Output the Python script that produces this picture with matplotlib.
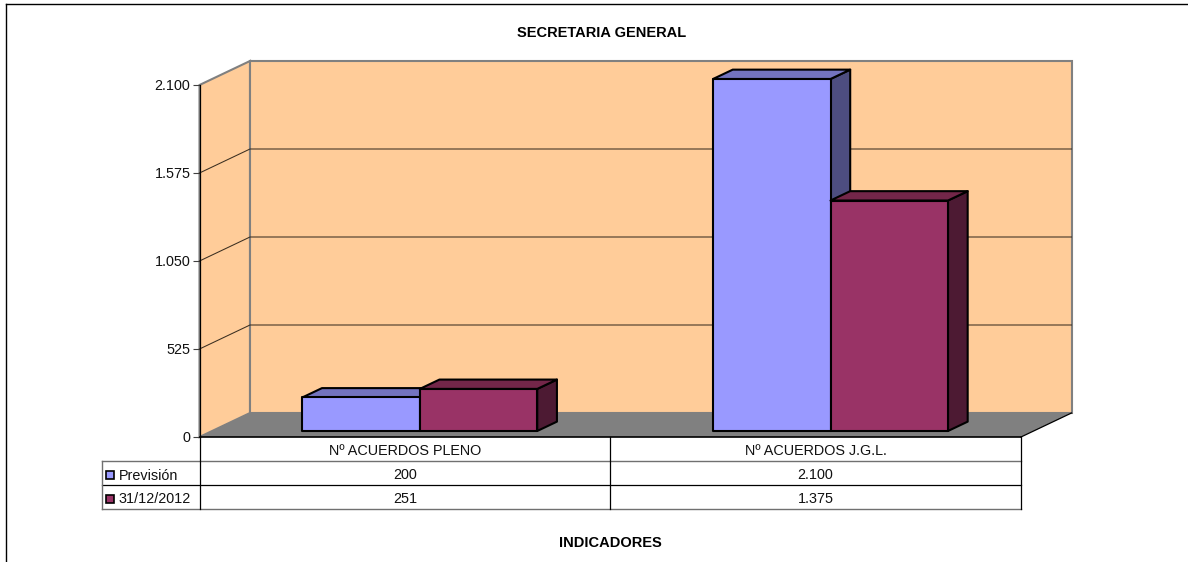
#!/usr/bin/env python3
import matplotlib
matplotlib.use("Agg")
import matplotlib.pyplot as plt
from matplotlib.lines import Line2D
from matplotlib.patches import Polygon, Rectangle

categories = ["Nº ACUERDOS PLENO", "Nº ACUERDOS J.G.L."]
series_names = ["Previsión", "31/12/2012"]
prevision = [200, 2100]
fin_2012 = [251, 1375]
y_ticks = [0, 525, 1050, 1575, 2100]

# face, top, side
colors_prev = ["#9999FF", "#7373BF", "#4D4D80"]
colors_2012 = ["#993366", "#732649", "#4D1A33"]

W, H = 1188, 562
plt.rcParams["font.family"] = ["Liberation Sans", "DejaVu Sans"]


def fx(x):
    return x / W


def fy(y):
    return 1 - y / H


def fig_line(x0, y0, x1, y1, color="black", lw=0.8):
    fig.add_artist(Line2D([fx(x0), fx(x1)], [fy(y0), fy(y1)], color=color, lw=lw))


def fmt(v):
    return f"{v:,}".replace(",", ".")


fig = plt.figure(figsize=(W / 100, H / 100), dpi=100)
left, right, top, bottom = 199.5, 1021, 85, 437
ax = fig.add_axes([fx(left), fy(bottom), fx(right - left), (bottom - top) / H])
ax.set_xlim(0, 2)
ax.set_ylim(0, 2100)
ax.patch.set_visible(False)

# depth of the 3d box in data units
depth_x = 50.5 / ((right - left) / 2)
depth_y = 24 / (bottom - top) * 2100
grey = "#808080"

ax.add_patch(Polygon([(0, 0), (depth_x, depth_y), (depth_x, 2100 + depth_y), (0, 2100)],
                     fc="#FFCC99", ec=grey, lw=1.5, clip_on=False, zorder=1))
ax.add_patch(Polygon([(depth_x, depth_y), (2 + depth_x, depth_y), (2 + depth_x, 2100 + depth_y), (depth_x, 2100 + depth_y)],
                     fc="#FFCC99", ec=grey, lw=1.5, clip_on=False, zorder=1))
ax.add_patch(Polygon([(0, 0), (2, 0), (2 + depth_x, depth_y), (depth_x, depth_y)],
                     fc=grey, ec="none", clip_on=False, zorder=2))
ax.plot([2, 2 + depth_x], [0, depth_y], color="black", lw=0.9, clip_on=False, zorder=2)

for t in y_ticks[1:-1]:
    ax.plot([0, depth_x, 2 + depth_x], [t, t + depth_y, t + depth_y],
            color="#3a2e20", lw=0.75, clip_on=False, zorder=2)

bar_w = 0.286
margin = 0.2195
off = 0.25
bar_depth = 0.39


def box(x, v, cols, z):
    x0 = x + off * depth_x
    y0 = off * depth_y
    dx, dy = bar_depth * depth_x, bar_depth * depth_y
    kw = dict(ec="black", lw=1.5, clip_on=False, zorder=z, joinstyle="round")
    ax.add_patch(Polygon([(x0 + bar_w, y0), (x0 + bar_w + dx, y0 + dy), (x0 + bar_w + dx, y0 + v + dy), (x0 + bar_w, y0 + v)], fc=cols[2], **kw))
    ax.add_patch(Polygon([(x0, y0 + v), (x0 + dx, y0 + v + dy), (x0 + bar_w + dx, y0 + v + dy), (x0 + bar_w, y0 + v)], fc=cols[1], **kw))
    ax.add_patch(Rectangle((x0, y0), bar_w, v, fc=cols[0], **kw))


for i in range(len(categories)):
    box(i + margin, prevision[i], colors_prev, 3 + i)
    box(i + margin + bar_w, fin_2012[i], colors_2012, 3.5 + i)

ax.set_xticks([])
ax.set_yticks(y_ticks)
ax.set_yticklabels([fmt(t) for t in y_ticks], fontsize=10.4, color="#111111")
ax.tick_params(axis="y", length=5, width=0.8, color="#404040", pad=1.5)
for s in ["top", "right", "bottom"]:
    ax.spines[s].set_visible(False)
ax.spines["left"].set_linewidth(0.9)
ax.spines["left"].set_zorder(6)

# data table under the chart
mid = (left + right) / 2
fig_line(left, 437, right, 437, "black", 1.2)
fig_line(102, 461, right, 461, "#707070", 1.0)
fig_line(102, 485, right, 485, "black", 0.9)
fig_line(102, 509, right, 509, "#707070", 1.0)
fig_line(102, 461, 102, 509, "#707070", 1.0)
fig_line(left, 437, left, 509, "black", 0.9)
fig_line(mid, 437, mid, 509, "black", 0.9)
fig_line(right, 437, right, 509, "black", 0.9)

cell_x = [(left + mid) / 2, (mid + right) / 2]
for cx, c, a, b in zip(cell_x, categories, prevision, fin_2012):
    fig.text(fx(cx), fy(451), c, ha="center", va="center", fontsize=10.4, color="#111111")
    fig.text(fx(cx), fy(475), fmt(a), ha="center", va="center", fontsize=10.4, color="#111111")
    fig.text(fx(cx), fy(499), fmt(b), ha="center", va="center", fontsize=10.4, color="#111111")

for name, c, yc in zip(series_names, [colors_prev[0], colors_2012[0]], [475, 498.5]):
    fig.add_artist(Rectangle((fx(106), fy(yc + 4)), 8 / W, 8 / H, fc=c, ec="black", lw=1.2,
                             transform=fig.transFigure))
    fig.text(fx(118.5), fy(yc + 0.5), name, ha="left", va="center", fontsize=10.4, color="#111111")

fig.text(fx(602), fy(33), "SECRETARIA GENERAL", ha="center", va="center", fontsize=10.5, fontweight="bold")
fig.text(fx(610.5), fy(543), "INDICADORES", ha="center", va="center", fontsize=10.5, fontweight="bold")

# outer frame of the sheet
fig_line(6, 3.5, W, 3.5, "black", 1.0)
fig_line(6, 3.5, 6, H, "black", 1.0)

fig.savefig("out.png", dpi=100)
